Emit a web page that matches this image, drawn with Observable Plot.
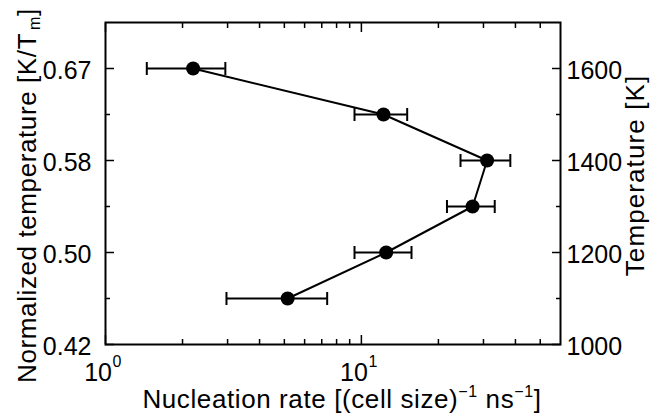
<!DOCTYPE html>
<html>
<head>
<meta charset="utf-8">
<script src="https://cdn.jsdelivr.net/npm/d3@7"></script>
<script src="https://cdn.jsdelivr.net/npm/@observablehq/plot@0.6"></script>
<style>
  html, body { margin: 0; padding: 0; background: white; }
</style>
</head>
<body>
<div id="chart"></div>
<script>
// Data
const temperature = [1600, 1500, 1400, 1300, 1200, 1100];          // K
const rate        = [2.2, 12.2, 31.0, 27.2, 12.5, 5.15];            // (cell size)^-1 ns^-1
const rateLow     = [1.45, 9.4, 24.4, 21.6, 9.4, 2.97];
const rateHigh    = [2.94, 15.1, 38.2, 33.2, 15.7, 7.35];

// Axis ticks / labels
const yLabelTicks = [1000, 1200, 1400, 1600];
const yNormLabels = ["0.42", "0.50", "0.58", "0.67"];
const yMinorTicks = [1100, 1300, 1500];
const xMajorTicks = [1, 10];
const xExponents  = ["0", "1"];
const xMinorTicks = [2, 3, 4, 5, 6, 7, 8, 9, 20, 30, 40, 50];

const xTitle  = "Nucleation rate";
const yTitle  = "Normalized temperature";
const y2Title = "Temperature [K]";

const data = temperature.map((T, i) => ({T, rate: rate[i], lo: rateLow[i], hi: rateHigh[i]}));

const capSymbol = {
  draw(context, size) {
    const h = Math.sqrt(size / Math.PI);
    context.moveTo(0, -h);
    context.lineTo(0, h);
  }
};

const font = "'Liberation Sans', Arial, Helvetica, sans-serif";

const chart = Plot.plot({
  width: 651,
  height: 414,
  marginLeft: 105,
  marginRight: 91,
  marginTop: 22,
  marginBottom: 70,
  style: {fontFamily: font, fontSize: "24px", color: "black", background: "white", overflow: "visible"},
  x: {type: "log", domain: [1, 60]},
  y: {domain: [1000, 1700]},
  marks: [
    // inward ticks
    Plot.axisX({anchor: "bottom", ticks: xMajorTicks, tickSize: -9, tickFormat: () => "", label: null, strokeWidth: 1.5}),
    Plot.axisX({anchor: "bottom", ticks: xMinorTicks, tickSize: -5, tickFormat: () => "", label: null, strokeWidth: 1.5}),
    Plot.axisX({anchor: "top", ticks: xMajorTicks, tickSize: -9, tickFormat: () => "", label: null, strokeWidth: 1.5}),
    Plot.axisX({anchor: "top", ticks: xMinorTicks, tickSize: -5, tickFormat: () => "", label: null, strokeWidth: 1.5}),
    Plot.axisY({anchor: "left", ticks: yLabelTicks, tickSize: -9, tickFormat: () => "", label: null, strokeWidth: 1.5}),
    Plot.axisY({anchor: "left", ticks: yMinorTicks, tickSize: -5, tickFormat: () => "", label: null, strokeWidth: 1.5}),
    Plot.axisY({anchor: "right", ticks: yLabelTicks, tickSize: -9, tickFormat: () => "", label: null, strokeWidth: 1.5}),
    Plot.axisY({anchor: "right", ticks: yMinorTicks, tickSize: -5, tickFormat: () => "", label: null, strokeWidth: 1.5}),
    // tick labels
    Plot.axisY({anchor: "left", ticks: yLabelTicks, tickSize: 0, tickPadding: 14, dy: 2, label: null,
      tickFormat: d => yNormLabels[yLabelTicks.indexOf(d)], fontSize: 25}),
    Plot.axisY({anchor: "right", ticks: yLabelTicks, tickSize: 0, tickPadding: 6, dy: 2, label: null,
      tickFormat: d => `${d}`, fontSize: 25}),
    Plot.text(xMajorTicks, {x: d => d, frameAnchor: "bottom", text: () => "10", textAnchor: "end",
      lineAnchor: "bottom", dx: 6.5, dy: 36, fontSize: 25}),
    Plot.text(xMajorTicks, {x: d => d, frameAnchor: "bottom", text: (d, i) => xExponents[i], textAnchor: "start",
      lineAnchor: "bottom", dx: 7, dy: 22.5, fontSize: 16}),
    // axis titles (superscripts/subscripts added below)
    Plot.text([0], {frameAnchor: "bottom", text: () => xTitle, textAnchor: "middle", lineAnchor: "bottom",
      dx: 9, dy: 63, fontSize: 26}),
    Plot.text([0], {frameAnchor: "left", text: () => yTitle, rotate: -90, textAnchor: "middle", lineAnchor: "bottom",
      dx: -70, dy: 12, fontSize: 26}),
    Plot.text([0], {frameAnchor: "right", text: () => y2Title, rotate: -90, textAnchor: "middle", lineAnchor: "bottom",
      dx: 83, dy: -8, fontSize: 26}),
    // frame
    Plot.frame({stroke: "black", strokeWidth: 2}),
    // data
    Plot.ruleY(data, {y: "T", x1: "lo", x2: "hi", stroke: "black", strokeWidth: 2}),
    Plot.dot(data, {x: "lo", y: "T", r: 6.5, symbol: capSymbol, stroke: "black", fill: "none", strokeWidth: 2}),
    Plot.dot(data, {x: "hi", y: "T", r: 6.5, symbol: capSymbol, stroke: "black", fill: "none", strokeWidth: 2}),
    Plot.line(data, {x: "rate", y: "T", stroke: "black", strokeWidth: 2}),
    Plot.dot(data, {x: "rate", y: "T", r: 7, fill: "black", stroke: "none"})
  ]
});

document.getElementById("chart").appendChild(chart);

// Rich-text axis titles
const svg = d3.select(chart);
const byText = s => svg.selectAll("text").filter(function () { return this.textContent === s; });
byText(xTitle)
  .style("letter-spacing", "0.6px")
  .html(xTitle + ' [(cell size)<tspan dy="-11" font-size="16">\u22121</tspan><tspan dy="11"> ns</tspan><tspan dy="-11" font-size="16">\u22121</tspan><tspan dy="11">]</tspan>');
byText(yTitle)
  .style("letter-spacing", "0.6px")
  .html(yTitle + ' [K/T<tspan dx="3" dy="4" font-size="16">m</tspan><tspan dy="-4">]</tspan>');
byText(y2Title).style("letter-spacing", "1.1px");
</script>
</body>
</html>
